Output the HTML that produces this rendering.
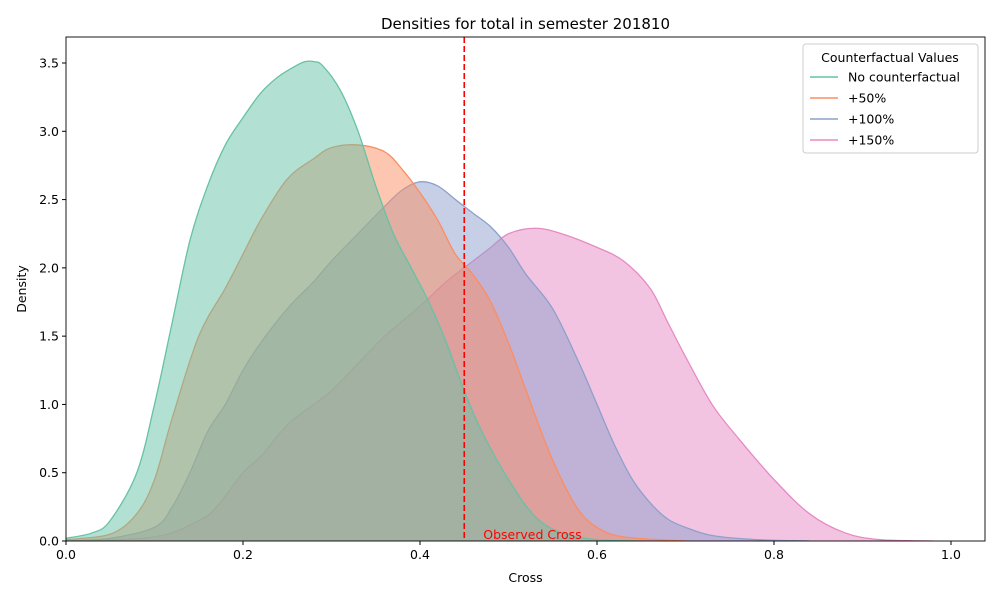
<!DOCTYPE html>
<html><head><meta charset="utf-8"><style>
body{margin:0;background:#fff;font-family:"Liberation Sans","DejaVu Sans",sans-serif}
svg text{font-family:"DejaVu Sans","Liberation Sans",sans-serif}
</style></head><body>
<svg id="chart" width="1000" height="600" xmlns="http://www.w3.org/2000/svg">
<rect width="1000" height="600" fill="#fff"/>
<g id="marks"></g>
<g id="axes"></g>
</svg>
<script>
const seriesNames=["No counterfactual","+50%","+100%","+150%"];
const colors=["#66c2a5","#fc8d62","#8da0cb","#e78ac3"];
const xTicks=[0,0.2,0.4,0.6,0.8,1.0];
const xTickLabels=["0.0","0.2","0.4","0.6","0.8","1.0"];
const yTicks=[0,0.5,1,1.5,2,2.5,3,3.5];
const yTickLabels=["0.0","0.5","1.0","1.5","2.0","2.5","3.0","3.5"];
const observedCross=0.45;
const s0x=[0,0.03,0.05,0.08,0.1,0.12,0.14,0.16,0.18,0.2,0.22,0.24,0.26,0.27,0.28,0.29,0.31,0.33,0.35,0.37,0.39,0.41,0.43,0.45,0.47,0.5,0.53,0.56,0.6,0.65];
const s0y=[0.02,0.06,0.15,0.5,1.0,1.6,2.2,2.6,2.9,3.1,3.28,3.4,3.48,3.51,3.51,3.48,3.3,3.0,2.6,2.25,2.0,1.75,1.45,1.1,0.8,0.45,0.18,0.06,0.01,0];
const s1x=[0,0.05,0.08,0.1,0.12,0.15,0.18,0.2,0.22,0.25,0.28,0.3,0.33,0.36,0.38,0.4,0.42,0.44,0.46,0.48,0.5,0.52,0.54,0.56,0.58,0.6,0.63,0.7];
const s1y=[0.01,0.05,0.2,0.45,0.9,1.5,1.85,2.1,2.35,2.65,2.8,2.88,2.9,2.85,2.72,2.55,2.35,2.1,1.95,1.75,1.45,1.1,0.75,0.45,0.22,0.1,0.03,0];
const s2x=[0,0.05,0.1,0.12,0.14,0.16,0.18,0.2,0.22,0.25,0.28,0.3,0.33,0.36,0.38,0.4,0.42,0.44,0.46,0.48,0.5,0.52,0.55,0.58,0.6,0.62,0.64,0.66,0.68,0.7,0.73,0.78,0.84];
const s2y=[0,0.02,0.1,0.25,0.5,0.8,1.0,1.25,1.45,1.7,1.9,2.05,2.25,2.45,2.57,2.63,2.6,2.5,2.4,2.3,2.15,1.95,1.7,1.3,1.0,0.7,0.45,0.28,0.16,0.1,0.04,0.01,0];
const s3x=[0,0.1,0.15,0.17,0.2,0.22,0.25,0.28,0.3,0.33,0.36,0.4,0.43,0.46,0.48,0.5,0.53,0.56,0.6,0.63,0.66,0.68,0.7,0.73,0.76,0.8,0.84,0.88,0.92,0.98];
const s3y=[0,0.03,0.15,0.25,0.5,0.62,0.85,1.0,1.1,1.3,1.5,1.72,1.9,2.05,2.15,2.25,2.29,2.25,2.15,2.05,1.85,1.6,1.35,1.0,0.75,0.45,0.2,0.06,0.01,0];
const seriesX=[s0x,s1x,s2x,s3x], seriesY=[s0y,s1y,s2y,s3y];

const L=66,R=985,T=37,B=541;
const xMin=0,xMax=(R-L)/885,yMin=0,yMax=(B-T)/136.57;
const sx=v=>L+(v-xMin)/(xMax-xMin)*(R-L);
const sy=v=>B-(v-yMin)/(yMax-yMin)*(B-T);
const NS="http://www.w3.org/2000/svg";
function mk(tag,attrs,parent,txt){const e=document.createElementNS(NS,tag);for(const k in attrs)e.setAttribute(k,attrs[k]);if(txt!==undefined)e.textContent=txt;parent.appendChild(e);return e;}
function smooth(pts){let d=`M${pts[0][0]},${pts[0][1]}`;for(let i=0;i<pts.length-1;i++){const p0=pts[i-1]||pts[i],p1=pts[i],p2=pts[i+1],p3=pts[i+2]||p2;
const c1x=p1[0]+(p2[0]-p0[0])/6,c1y=p1[1]+(p2[1]-p0[1])/6,c2x=p2[0]-(p3[0]-p1[0])/6,c2y=p2[1]-(p3[1]-p1[1])/6;
d+=` C${c1x},${Math.min(c1y,B)} ${c2x},${Math.min(c2y,B)} ${p2[0]},${p2[1]}`;}return d;}
const marks=document.getElementById('marks'),axes=document.getElementById('axes');
mk('defs',{},marks).innerHTML='<clipPath id="clip"><rect x="66" y="37" width="919" height="504"/></clipPath>';
const cg=mk('g',{'clip-path':'url(#clip)'},marks);
for(let i=seriesX.length-1;i>=0;i--){
  const xs=seriesX[i];
  const pts=xs.map((x,j)=>[sx(x),sy(seriesY[i][j])]);
  const d=smooth(pts);
  const f=mk('path',{d:d+` L${pts[pts.length-1][0]},${B} L${pts[0][0]},${B} Z`,fill:colors[i],'fill-opacity':0.5,stroke:'none'},cg);
  
  
  const l=mk('path',{d:d,fill:'none',stroke:colors[i],'stroke-width':1.3},cg);
  
  
}
const vl=mk('line',{x1:sx(observedCross),x2:sx(observedCross),y1:T,y2:B,stroke:'#ff0000','stroke-width':1.6,'stroke-dasharray':'6,3'},marks);


const ot=mk('text',{x:sx(observedCross)+19,y:539,fill:'#ff0000','font-size':12.5},marks,'Observed Cross');


const fr=mk('rect',{x:L,y:T,width:R-L,height:B-T,fill:'none',stroke:'#000','stroke-width':0.9},axes);


xTicks.forEach((v,i)=>{mk('line',{x1:sx(v),x2:sx(v),y1:B,y2:B+4,stroke:'#000'},axes);
 const t=mk('text',{x:sx(v),y:B+18,'text-anchor':'middle','font-size':12.5},axes,xTickLabels[i]);
 
 });
yTicks.forEach((v,i)=>{mk('line',{x1:L-4,x2:L,y1:sy(v),y2:sy(v),stroke:'#000'},axes);
 const t=mk('text',{x:L-7,y:sy(v)+4.5,'text-anchor':'end','font-size':12.5},axes,yTickLabels[i]);
 
 });
const xt=mk('text',{x:(L+R)/2,y:582,'text-anchor':'middle','font-size':12.5},axes,'Cross');


const yt=mk('text',{x:26,y:(T+B)/2,'text-anchor':'middle','font-size':12.5,transform:`rotate(-90 26 ${(T+B)/2})`},axes,'Density');


const tt=mk('text',{x:(L+R)/2,y:29,'text-anchor':'middle','font-size':15},axes,'Densities for total in semester 201810');


const lg=mk('g',{},axes);


mk('rect',{x:803,y:44,width:175,height:109,rx:3,fill:'#fff','fill-opacity':0.8,stroke:'#ccc'},lg);
mk('text',{x:890,y:62,'text-anchor':'middle','font-size':12.5},lg,'Counterfactual Values');
seriesNames.forEach((n,i)=>{const y=77+i*21;
 const e=mk('g',{},lg);
 
 
 mk('line',{x1:810,x2:838,y1:y,y2:y,stroke:colors[i],'stroke-width':1.6},e);
 mk('text',{x:848,y:y+4.5,'font-size':12.5},e,n);});
</script>
</body></html>
